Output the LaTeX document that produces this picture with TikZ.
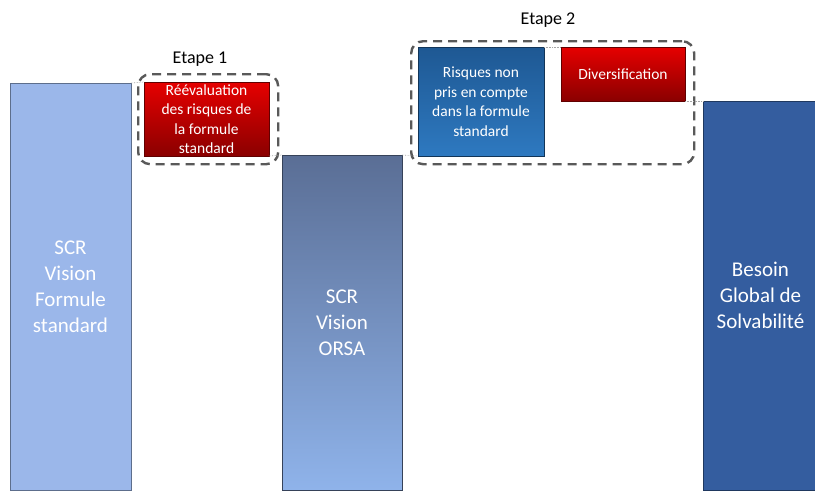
\documentclass[tikz,border=0pt]{standalone}
\usepackage{fontspec}
\setmainfont{Carlito}
\definecolor{barA}{HTML}{9BB7EA}
\definecolor{barBtop}{HTML}{5A6E95}
\definecolor{barBbot}{HTML}{8FB3EA}
\definecolor{barC}{HTML}{345D9F}
\definecolor{redtop}{HTML}{E60000}
\definecolor{redbot}{HTML}{8A0000}
\definecolor{bluetop}{HTML}{1E5893}
\definecolor{bluebot}{HTML}{2E79C0}
\definecolor{dashgray}{HTML}{595959}
\begin{document}
\begin{tikzpicture}[x=1pt,y=-1pt,
  box/.style={anchor=north west,inner sep=0pt,outer sep=0pt,align=center,text=white,draw=#1,line width=0.8pt},
  bigtxt/.style={font=\fontsize{21}{26}\selectfont},
  smalltxt/.style={font=\fontsize{15.5}{19.5}\selectfont},
  stepframe/.style={draw=dashgray,line width=2.4pt,dash pattern=on 9pt off 6pt,rounded corners=12pt,anchor=north west,inner sep=0pt},
  link/.style={draw=gray!70,densely dotted,line width=0.6pt},
  steplabel/.style={font=\fontsize{18}{20}\selectfont,text=black}]
\useasboundingbox[fill=white] (0,0) rectangle (815,491);
% dashed frames
\node[stepframe,minimum width=140pt,minimum height=90pt] (f1) at (137,73) {};
\node[stepframe,minimum width=283pt,minimum height=123pt] (f2) at (410,40) {};
% bars
\node[box=barA!60!black,fill=barA,minimum width=121pt,minimum height=407pt,bigtxt] (b1) at (10,83) {SCR\\Vision\\Formule\\standard};
\node[box=barBtop!60!black,top color=barBtop,bottom color=barBbot,minimum width=120pt,minimum height=335pt,bigtxt] (b2) at (282,155) {SCR\\Vision\\ORSA};
\node[box=barC!60!black,fill=barC,minimum width=115pt,minimum height=389pt,bigtxt] (b3) at (703,101) {Besoin\\Global de\\Solvabilité};
% step boxes
\node[box=redbot!70!black,top color=redtop,bottom color=redbot,minimum width=125pt,minimum height=74pt,smalltxt] (r1) at (144,82) {Réévaluation\\des risques de\\la formule\\standard};
\node[box=bluetop!60!black,top color=bluetop,bottom color=bluebot,minimum width=126pt,minimum height=109pt,smalltxt] (bl) at (418,47) {Risques non\\pris en compte\\dans la formule\\standard};
\node[box=redbot!70!black,top color=redtop,bottom color=redbot,minimum width=124pt,minimum height=54pt,smalltxt] (dv) at (561,47) {Diversification};
% labels
\node[steplabel] (l1) at (200,59) {Etape 1};
\node[steplabel] (l2) at (548,20) {Etape 2};
% dotted connectors
\draw[link] (b1.north east) -- (r1.north west);
\draw[link] (r1.south east) -- (b2.north west);
\draw[link] (b2.north east) -- (bl.south west);
\draw[link] (bl.north east) -- (dv.north west);
\draw[link] (dv.south east) -- (b3.north west);
\end{tikzpicture}
\end{document}
